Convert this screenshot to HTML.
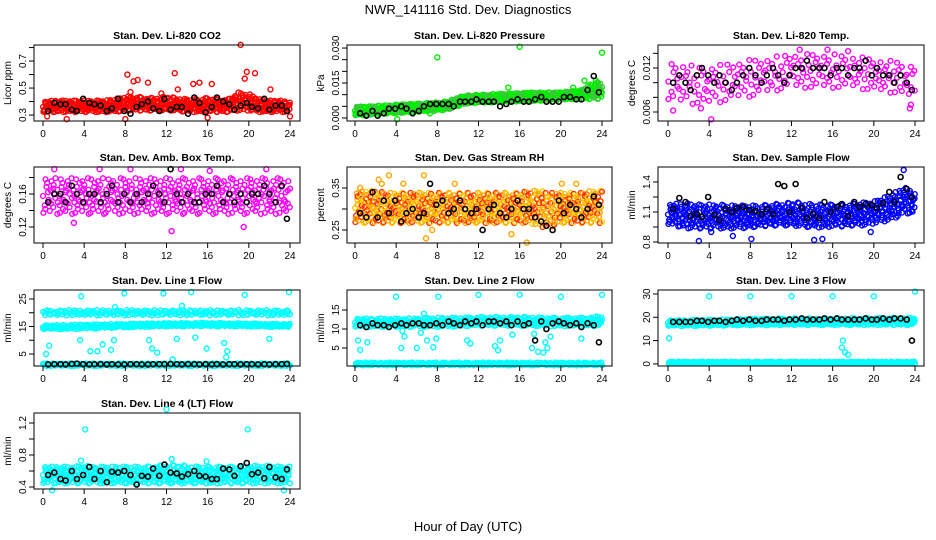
<!DOCTYPE html>
<html><head><meta charset="utf-8"><style>
body{margin:0;background:#fff}
svg{display:block;font-family:"Liberation Sans",Arial,sans-serif}
</style></head><body>
<svg id="chart" width="936" height="540" viewBox="0 0 936 540">
<rect width="936" height="540" fill="#fff"/>
<text x="468" y="14" text-anchor="middle" font-size="13">NWR_141116  Std. Dev. Diagnostics</text>
<text x="468" y="531" text-anchor="middle" font-size="13">Hour of Day (UTC)</text>
</svg>
<script>
const hours=[0,1,2,3,4,5,6,7,8,9,10,11,12,13,14,15,16,17,18,19,20,21,22,23,24];
const xTicks=[0,4,8,12,16,20,24];
const blackX=[0.5,1.1,1.7,2.2,2.8,3.3,3.9,4.5,5,5.6,6.2,6.7,7.3,7.9,8.5,9.1,9.6,10.2,10.7,11.3,11.8,12.4,13,13.5,14.1,14.7,15.2,15.8,16.4,16.9,17.5,18.1,18.6,19.2,19.8,20.3,20.9,21.5,22,22.6,23.2,23.7];

const co2Lo=[0.32,0.32,0.32,0.32,0.32,0.32,0.32,0.32,0.33,0.33,0.33,0.33,0.33,0.33,0.32,0.32,0.32,0.32,0.32,0.33,0.33,0.32,0.32,0.32,0.32];
const co2Hi=[0.40,0.41,0.41,0.41,0.41,0.41,0.41,0.42,0.44,0.44,0.43,0.43,0.44,0.43,0.42,0.42,0.43,0.42,0.42,0.47,0.46,0.42,0.41,0.41,0.40];
const co2Out=[[8.2,0.60],[8.8,0.55],[9.2,0.56],[10.2,0.54],[12.8,0.61],[14.6,0.53],[15.2,0.54],[16.4,0.53],[19.2,0.82],[19.8,0.62],[20.6,0.61],[22.1,0.49],[2.3,0.27],[8,0.27],[0.4,0.29],[16,0.28],[24,0.29],[8.5,0.47],[11.5,0.46],[13.1,0.49],[19.6,0.57]];
const co2Black=[0.33,0.39,0.38,0.38,0.34,0.33,0.42,0.39,0.38,0.37,0.33,0.35,0.42,0.33,0.31,0.36,0.38,0.40,0.35,0.33,0.42,0.34,0.36,0.36,0.31,0.43,0.39,0.32,0.36,0.43,0.40,0.38,0.34,0.37,0.39,0.36,0.35,0.42,0.34,0.37,0.37,0.33];

const presLo=[0.001,0.0012,0.0015,0.0018,0.002,0.0022,0.0025,0.0028,0.003,0.0035,0.005,0.0062,0.0065,0.0065,0.0068,0.007,0.007,0.0072,0.0073,0.0075,0.0078,0.008,0.008,0.008,0.008];
const presHi=[0.005,0.005,0.0052,0.0055,0.0058,0.006,0.0062,0.0065,0.0068,0.0072,0.009,0.0098,0.010,0.0102,0.0105,0.0105,0.0108,0.011,0.011,0.011,0.0112,0.0115,0.012,0.015,0.016];
const presOut=[[8,0.026],[16,0.0305],[24,0.028],[22.3,0.016],[23.4,0.016],[4.1,-0.0005],[7.3,0.002],[14.9,0.013],[21.2,0.013]];
const presBlack=[0.002,0.001,0.003,0.001,0.002,0.004,0.004,0.005,0.004,0.002,0.003,0.005,0.006,0.006,0.006,0.006,0.005,0.007,0.007,0.007,0.008,0.007,0.007,0.007,0.005,0.006,0.007,0.008,0.007,0.007,0.008,0.009,0.007,0.007,0.007,0.009,0.009,0.008,0.008,0.012,0.018,0.011];

const tempLo=[0.0075,0.0072,0.007,0.007,0.007,0.0072,0.0075,0.0078,0.008,0.0083,0.0086,0.009,0.0092,0.0092,0.0092,0.0092,0.0092,0.0092,0.0092,0.009,0.0088,0.0086,0.0085,0.008,0.008];
const tempHi=[0.0128,0.0128,0.0125,0.0123,0.0123,0.0125,0.0128,0.013,0.0132,0.0133,0.0135,0.0138,0.014,0.014,0.014,0.014,0.014,0.0138,0.0137,0.0135,0.0133,0.0132,0.013,0.0128,0.0125];
const tempOut=[[4.2,0.005],[0.5,0.0062],[23.5,0.0065],[3.2,0.0065],[12.8,0.0145],[15.5,0.0145],[17.5,0.0143],[23.6,0.007]];
const tempBlack=[0.010,0.011,0.010,0.009,0.011,0.012,0.011,0.010,0.011,0.010,0.009,0.010,0.011,0.012,0.011,0.010,0.011,0.012,0.011,0.010,0.011,0.012,0.012,0.013,0.012,0.012,0.012,0.011,0.012,0.012,0.011,0.012,0.012,0.013,0.011,0.012,0.011,0.011,0.010,0.011,0.010,0.009];

const boxLo=[0.135,0.135,0.135,0.135,0.135,0.135,0.135,0.135,0.135,0.135,0.135,0.135,0.135,0.135,0.135,0.135,0.135,0.135,0.135,0.135,0.135,0.135,0.135,0.135,0.135];
const boxHi=[0.18,0.18,0.18,0.18,0.18,0.18,0.18,0.18,0.18,0.18,0.18,0.18,0.18,0.18,0.18,0.18,0.18,0.18,0.18,0.18,0.18,0.18,0.18,0.18,0.18];
const boxOut=[[1.1,0.19],[5.5,0.19],[8.5,0.19],[12.5,0.115],[13.4,0.19],[16.2,0.188],[19.5,0.12],[3,0.125],[21.7,0.19]];
const boxBlack=[0.15,0.16,0.16,0.15,0.17,0.16,0.15,0.16,0.16,0.15,0.16,0.17,0.15,0.16,0.15,0.16,0.15,0.16,0.17,0.16,0.15,0.19,0.16,0.15,0.16,0.15,0.15,0.16,0.16,0.17,0.15,0.16,0.15,0.16,0.15,0.16,0.16,0.17,0.16,0.15,0.17,0.13];

const rhLo=[0.265,0.265,0.265,0.265,0.265,0.265,0.265,0.265,0.265,0.265,0.265,0.265,0.265,0.265,0.265,0.265,0.265,0.265,0.255,0.255,0.265,0.265,0.265,0.265,0.265];
const rhHi=[0.34,0.345,0.345,0.34,0.34,0.34,0.34,0.34,0.34,0.34,0.34,0.34,0.34,0.34,0.34,0.34,0.34,0.345,0.345,0.34,0.34,0.34,0.34,0.345,0.345];
const rhOut=[[2.3,0.37],[3.3,0.38],[4.7,0.36],[6.7,0.38],[9.7,0.36],[6.9,0.23],[16.7,0.22],[20.1,0.36],[21.5,0.36],[15.2,0.24],[0.5,0.35],[2.6,0.36],[7.5,0.25]];
const rhBlack=[0.29,0.28,0.34,0.28,0.32,0.29,0.32,0.27,0.29,0.30,0.28,0.29,0.36,0.31,0.32,0.29,0.30,0.32,0.30,0.29,0.30,0.25,0.30,0.31,0.29,0.28,0.30,0.32,0.30,0.30,0.28,0.27,0.26,0.25,0.32,0.29,0.31,0.30,0.28,0.30,0.33,0.31];

const flowLo=[0.97,0.95,0.93,0.93,0.93,0.93,0.93,0.93,0.94,0.95,0.96,0.96,0.96,0.95,0.94,0.94,0.95,0.95,0.96,0.96,0.98,1.0,1.03,1.08,1.08];
const flowHi=[1.18,1.19,1.19,1.18,1.18,1.18,1.17,1.17,1.17,1.17,1.18,1.19,1.2,1.2,1.18,1.18,1.18,1.18,1.19,1.2,1.21,1.25,1.3,1.35,1.3];
const flowOut=[[3.0,0.81],[8.1,0.83],[14.2,0.82],[15.0,0.83],[22.9,1.52],[19.7,0.9],[4.2,0.9],[6.3,0.86]];
const flowBlack=[1.13,1.24,1.20,1.06,1.08,1.05,1.25,1.07,1.02,1.13,1.10,1.14,1.15,1.12,1.11,1.08,1.13,1.08,1.38,1.36,1.10,1.38,1.14,1.04,1.08,1.04,1.20,1.10,1.15,1.18,1.06,1.20,1.15,1.18,1.17,1.14,1.19,1.30,1.20,1.45,1.33,1.25];

const l1MidLo=[14,14,14,14,14.2,14.2,14.4,14.5,14.6,14.7,14.8,14.9,15,15,15,15.1,15.1,15,15,15,14.9,14.9,14.8,14.8,14.8];
const l1MidHi=[15.5,15.5,15.6,15.7,15.8,15.8,15.9,16,16,16.1,16.2,16.2,16.3,16.3,16.3,16.4,16.4,16.3,16.3,16.2,16.2,16.1,16,16,16];
const l1TopLo=[19,19,19,19,19,19,19,19,19,19,19,19,19,19,19,19,19,19,19,19,19,19,19,19,19];
const l1TopHi=[21,21,21,21,21,21,21,21,21,21,21,21,21,21,21,21,21,21,21,21,21,21,21,21,21];
const l1BotLo=[0.6,0.6,0.6,0.6,0.6,0.6,0.6,0.6,0.6,0.6,0.6,0.6,0.6,0.6,0.6,0.6,0.6,0.6,0.6,0.6,0.6,0.6,0.6,0.6,0.6];
const l1BotHi=[1.6,1.6,1.6,1.6,1.6,1.6,1.6,1.6,1.6,1.6,1.6,1.6,1.6,1.6,1.6,1.6,1.6,1.6,1.6,1.6,1.6,1.6,1.6,1.6,1.6];
const l1Out=[[0.3,5],[0.6,8],[3.7,26],[3.6,10],[4.6,6],[5.3,6],[5.8,8.5],[6.6,6.5],[6.9,10],[7.9,27],[10.3,10],[10.6,7],[11.7,27],[11.1,5.5],[12.6,3],[13.0,10.5],[14.4,27.5],[14.8,11],[15.9,7],[17.6,9],[17.9,6],[17.8,3.8],[19.6,26.5],[22,10.5],[23.9,27.5],[13.5,22.5],[7,22]];
const l1Black=[1.2,1.3,1.3,1.2,1.4,1.5,1.3,1.2,1.3,1.3,1.2,1.3,1.2,1.2,1.3,1.3,1.2,1.2,1.3,1.3,1.3,1.4,1.3,1.2,1.3,1.3,1.2,1.3,1.2,1.3,1.2,1.3,1.3,1.2,1.3,1.3,1.2,1.3,1.2,1.3,1.3,1.4];

const l2MidLo=[10.5,10.5,10.5,10.5,10.5,10.5,10.5,10.5,10.5,10.5,10.6,10.7,10.8,10.8,10.8,10.8,10.8,10.8,10.7,10.7,10.7,10.7,10.7,10.7,10.7];
const l2MidHi=[12.8,12.8,12.8,12.8,12.8,12.8,12.9,13,13,13,13,13.1,13.2,13.2,13.2,13.2,13.2,13.2,13.1,13,13,13,13,13.2,13.5];
const l2BotLo=[0.4,0.4,0.4,0.4,0.4,0.4,0.4,0.4,0.4,0.4,0.4,0.4,0.4,0.4,0.4,0.4,0.4,0.4,0.4,0.4,0.4,0.4,0.4,0.4,0.4];
const l2BotHi=[1.2,1.2,1.2,1.2,1.2,1.2,1.2,1.2,1.2,1.2,1.2,1.2,1.2,1.2,1.2,1.2,1.2,1.2,1.2,1.2,1.2,1.2,1.2,1.2,1.2];
const l2Out=[[0.3,7],[0.5,4.5],[1.2,6.5],[4.0,18.5],[4.6,9.5],[4.8,8],[4.5,5],[6.0,5],[6.4,9],[7.0,7],[7.6,5.2],[7.9,7.5],[8.1,18.5],[12.0,19],[10.9,7],[11.2,6.2],[13.6,5.5],[13.9,4.4],[14.1,7],[15.3,8.5],[16.0,19],[17.2,5],[17.5,7],[17.8,4],[18.3,3.8],[18.7,5],[19.0,8],[20.0,18.5],[22.0,7.5],[24,19],[17.4,8.7],[18.5,6.5],[6.7,14]];
const l2Black=[11,10.5,11.5,11,11,10.5,11,11.5,11,11.5,11.5,11,11,11.5,11,12,11.5,11,12,11.5,12,11,12,12,11.5,12,11,12,11,11.5,7,12,10,11.5,12,11.5,11,11.5,10.5,11.5,11,6.5];

const l3MidLo=[16.2,16.2,16.2,16.2,16.3,16.3,16.4,16.5,16.5,16.5,16.5,16.6,16.6,16.6,16.6,16.6,16.6,16.6,16.6,16.6,16.6,16.6,16.6,16.6,16.6];
const l3MidHi=[18.8,18.8,18.9,19,19,19,19.2,19.3,19.4,19.5,19.5,19.6,19.6,19.6,19.6,19.6,19.7,19.7,19.7,19.7,19.8,19.8,19.8,19.8,19.8];
const l3BotLo=[0.2,0.2,0.2,0.2,0.2,0.2,0.2,0.2,0.2,0.2,0.2,0.2,0.2,0.2,0.2,0.2,0.2,0.2,0.2,0.2,0.2,0.2,0.2,0.2,0.2];
const l3BotHi=[1.0,1.0,1.0,1.0,1.0,1.0,1.0,1.0,1.0,1.0,1.0,1.0,1.0,1.0,1.0,1.0,1.0,1.0,1.0,1.0,1.0,1.0,1.0,1.0,1.0];
const l3Out=[[4,29],[8,29],[12,29],[16,29],[20,29],[24,31],[16.9,7],[17.2,5],[17.5,4],[17.0,10],[0.1,11]];
const l3Black=[18,18,18,18,18.5,18.5,18,18.5,18.5,18,18.5,19,18.5,19,18.5,18.5,19,19,19,18.5,19,19,19.5,19,19,19,19.5,19,19.5,19,19,19,19,19.5,19,19,19.5,19,19.5,19.5,19,10];

const l4Lo=[0.44,0.44,0.44,0.44,0.44,0.44,0.44,0.44,0.44,0.44,0.44,0.44,0.44,0.44,0.44,0.44,0.44,0.44,0.44,0.44,0.44,0.44,0.44,0.44,0.44];
const l4Hi=[0.66,0.66,0.66,0.66,0.67,0.66,0.66,0.66,0.66,0.66,0.66,0.67,0.68,0.68,0.67,0.66,0.66,0.66,0.66,0.66,0.67,0.67,0.67,0.66,0.66];
const l4Out=[[4.1,1.12],[12,1.37],[19.9,1.12],[0.9,0.36],[23.4,0.36],[3.7,0.73],[12.5,0.75],[15.9,0.72]];
const l4Black=[0.55,0.58,0.50,0.48,0.60,0.50,0.55,0.65,0.50,0.60,0.46,0.59,0.58,0.60,0.55,0.43,0.54,0.53,0.63,0.54,0.68,0.58,0.57,0.53,0.56,0.60,0.54,0.53,0.50,0.50,0.63,0.62,0.54,0.66,0.70,0.56,0.58,0.51,0.65,0.52,0.50,0.62];

const svg=document.getElementById('chart');
const NS='http://www.w3.org/2000/svg';
const colX=[[34,300,43,290],[347,612,355,602],[658,924,668,915]];
const rowY=[45,167,290,413];
const BH=76;
const frac=[0.05,0.5,0.95,0.25,0.75,0.15,0.85,0.4,0.6,0.35,0.65,0.1,0.9,0.3,0.7,0.2,0.8,0.45,0.55,0.02,0.98,0.33,0.67];
const jit=[0.3,-0.7,0.9,-0.2,0.5,-0.9,0.1,0.7,-0.4,-0.1,0.8,-0.6,0.2,-0.8,0.6,0.0,-0.3,0.4,-0.5,1.0,-1.0];

function mk(tag,attrs,parent){const e=document.createElementNS(NS,tag);for(const k in attrs)e.setAttribute(k,attrs[k]);(parent||svg).appendChild(e);return e;}
function interp(arr,h){h=Math.max(0,Math.min(24,h));const i=Math.min(23,Math.floor(h));const t=h-i;return arr[i]*(1-t)+arr[i+1]*t;}

const panels=[
 {name:'co2',title:'Stan. Dev. Li-820 CO2',ylab:'Licor ppm',c:0,r:0,ymin:0.256,ymax:0.819,ticks:[0.3,0.4,0.5,0.6,0.7,0.8],labels:['0.3','','0.5','','0.7',''],bands:[[co2Lo,co2Hi,2.6]],out:co2Out,black:co2Black,col:['#ff0000']},
 {name:'pressure',title:'Stan. Dev. Li-820 Pressure',ylab:'kPa',c:1,r:0,ymin:-0.0013,ymax:0.0313,ticks:[0,0.005,0.01,0.015,0.02,0.025,0.03],labels:['0.000','','','0.015','','','0.030'],bands:[[presLo,presHi,3.5]],out:presOut,black:presBlack,col:['#00ee00','#33cc33']},
 {name:'li820-temp',title:'Stan. Dev. Li-820 Temp.',ylab:'degrees C',c:2,r:0,ymin:0.00477,ymax:0.01514,ticks:[0.006,0.008,0.01,0.012,0.014],labels:['0.006','','','0.012',''],bands:[[tempLo,tempHi,1.0]],out:tempOut,black:tempBlack,col:['#ff00ff']},
 {name:'box-temp',title:'Stan. Dev. Amb. Box Temp.',ylab:'degrees C',c:0,r:1,ymin:0.1006,ymax:0.1927,ticks:[0.12,0.14,0.16,0.18],labels:['0.12','','0.16',''],bands:[[boxLo,boxHi,1.8]],out:boxOut,black:boxBlack,col:['#ff00ff']},
 {name:'rh',title:'Stan. Dev. Gas Stream RH',ylab:'percent',c:1,r:1,ymin:0.219,ymax:0.40,ticks:[0.25,0.30,0.35],labels:['0.25','','0.35'],bands:[[rhLo,rhHi,3]],out:rhOut,black:rhBlack,col:['#ffa500','#ff3000','#ffcc00']},
 {name:'sample-flow',title:'Stan. Dev. Sample Flow',ylab:'ml/min',c:2,r:1,ymin:0.79,ymax:1.55,ticks:[0.8,0.95,1.1,1.25,1.4],labels:['0.8','','1.1','','1.4'],bands:[[flowLo,flowHi,2.6]],out:flowOut,black:flowBlack,col:['#0000ff']},
 {name:'line1',title:'Stan. Dev. Line 1 Flow',ylab:'ml/min',c:0,r:2,ymin:0.64,ymax:28.27,ticks:[5,10,15,20,25],labels:['5','','15','','25'],bands:[[l1MidLo,l1MidHi,1.6],[l1TopLo,l1TopHi,1.0],[l1BotLo,l1BotHi,1.2]],out:l1Out,black:l1Black,col:['#00ffff']},
 {name:'line2',title:'Stan. Dev. Line 2 Flow',ylab:'ml/min',c:1,r:2,ymin:0.26,ymax:20.26,ticks:[5,10,15],labels:['5','10','15'],bands:[[l2MidLo,l2MidHi,2],[l2BotLo,l2BotHi,1.2]],out:l2Out,black:l2Black,col:['#00ffff']},
 {name:'line3',title:'Stan. Dev. Line 3 Flow',ylab:'',c:2,r:2,ymin:-0.9,ymax:31.7,ticks:[0,10,20,30],labels:['0','10','20','30'],bands:[[l3MidLo,l3MidHi,2],[l3BotLo,l3BotHi,1.2]],out:l3Out,black:l3Black,col:['#00ffff']},
 {name:'line4',title:'Stan. Dev. Line 4 (LT) Flow',ylab:'ml/min',c:0,r:3,ymin:0.375,ymax:1.325,ticks:[0.4,0.6,0.8,1.0,1.2],labels:['0.4','','0.8','','1.2'],bands:[[l4Lo,l4Hi,2.4]],out:l4Out,black:l4Black,col:['#00ffff']}
];

panels.forEach(p=>{
 const [bx0,bx1,x0,x1]=colX[p.c];const by0=rowY[p.r],by1=by0+BH;
 const sx=h=>x0+(x1-x0)*h/24;
 const sy=v=>by1-(v-p.ymin)/(p.ymax-p.ymin)*BH;
 const g=mk('g',{});
 
 
 const t=mk('text',{x:(bx0+bx1)/2,y:by0-6,'text-anchor':'middle','font-size':'10.5','font-weight':'bold'},g);
 t.textContent=p.title;
 
 
 if(p.ylab){const yl=mk('text',{x:0,y:0,'text-anchor':'middle','font-size':'10',transform:`translate(${bx0-23},${(by0+by1)/2}) rotate(-90)`},g);yl.textContent=p.ylab;
 
 }
 const pts=mk('g',{fill:'none','stroke-width':'1.4'},g);
 
 
 let k=0;
 p.bands.forEach(([lo,hi,dens])=>{
  const n=Math.round(dens*100);
  for(let i=0;i<=n*2;i++){
   const h=24*i/(n*2)+jit[k%jit.length]*0.12;
   const a=interp(lo,h),b=interp(hi,h);
   const f=frac[k%frac.length];k++;
   const v=a+(b-a)*f;
   mk('circle',{cx:sx(Math.max(0,Math.min(24,h))).toFixed(1),cy:sy(v).toFixed(1),r:2.4,stroke:p.col[k%p.col.length]},pts);
  }
 });
 p.out.forEach(([h,v])=>{mk('circle',{cx:sx(h),cy:sy(v),r:2.5,stroke:p.col[0]},pts);});
 p.black.forEach((v,i)=>{mk('circle',{cx:sx(blackX[i]),cy:sy(v),r:2.5,stroke:'#000','stroke-width':'1.6'},pts);});
 const box=mk('rect',{x:bx0,y:by0,width:bx1-bx0,height:BH,fill:'none',stroke:'#000','stroke-width':'1'},g);
 
 
 xTicks.forEach(v=>{mk('line',{x1:sx(v),x2:sx(v),y1:by1,y2:by1+5,stroke:'#000'},g);
  const tl=mk('text',{x:sx(v),y:by1+16,'text-anchor':'middle','font-size':'10'},g);tl.textContent=v;
  
  });
 p.ticks.forEach((v,i)=>{mk('line',{x1:bx0-5,x2:bx0,y1:sy(v),y2:sy(v),stroke:'#000'},g);
  if(p.labels[i]){const tl=mk('text',{x:0,y:0,'text-anchor':'middle','font-size':'10',transform:`translate(${bx0-8},${sy(v)}) rotate(-90)`},g);tl.textContent=p.labels[i];
  
  }});
});
</script>
</body></html>
